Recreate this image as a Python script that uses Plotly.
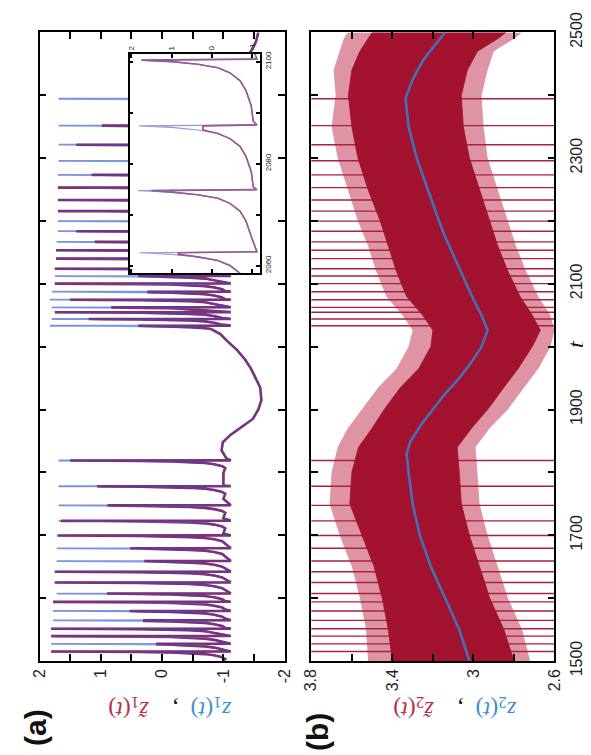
import plotly.graph_objects as go

# ---------------- data ----------------
# spike (firing) times shared by both panels
spike_t = [1514.9, 1527.2, 1539.5, 1551.2, 1564.5, 1579.5, 1593.9, 1607.2, 1624.8,
           1641.9, 1658.9, 1679.2, 1699.5, 1722.9, 1747.5, 1777.9, 1818.9,
           2033.3, 2044.0, 2054.7, 2062.5, 2074.7, 2087.4, 2100.3, 2112.3, 2124.0,
           2140.0, 2153.3, 2166.7, 2183.7, 2199.7, 2215.7, 2233.3, 2253.1, 2273.3,
           2295.7, 2321.3, 2351.7, 2394.4]
# peak of z1 (blue) at each spike
z1_peak = [1.81, 1.81, 1.81, 1.81, 1.78, 1.78, 1.78, 1.72, 1.75,
           1.75, 1.72, 1.72, 1.72, 1.69, 1.69, 1.69, 1.69,
           1.83, 1.80, 1.75, 1.80, 1.83, 1.80, 1.75, 1.75, 1.75,
           1.73, 1.73, 1.72, 1.70, 1.70, 1.70, 1.70, 1.70, 1.70,
           1.69, 1.69, 1.69, 1.69]
# peak of z~1 (red) at each spike
z1t_peak = [1.81, 0.08, 1.81, 1.81, 0.29, 0.53, 1.78, 0.90, 1.75,
            1.75, 0.29, 0.52, 1.70, 1.65, 0.87, 1.06, 1.50,
            0.39, 1.20, 1.75, 0.83, 1.50, 0.22, 1.75, 0.39, 1.75,
            1.73, 1.73, 1.10, 1.40, 0.30, 1.70, 1.70, 1.70, 1.15,
            0.30, 1.40, 0.96, 0.30]
# shape of one firing cycle: time before a spike and value
hook_tau = [40, 20, 12, 9, 6, 4, 2.5, 1.5, 0.8, 0.3]
hook_z = [-1.0, -1.0, -1.03, -0.98, -0.85, -0.7, -0.45, -0.15, 0.35, 1.0]
reset_dt = 0.2
reset_z = -1.12
start_t, start_z = 1500.0, -1.0
# quiet (non-firing) stretches of z1
quiet_t = [1822, 1835, 1848, 1860, 1872, 1885, 1900, 1915, 1935, 1950, 1965, 1980,
           1995, 2010, 2020, 2028,
           2397, 2410, 2425, 2440, 2455, 2470, 2485, 2500]
quiet_z = [-1.05, -0.97, -0.99, -1.12, -1.3, -1.48, -1.57, -1.62, -1.6, -1.53, -1.45,
           -1.35, -1.22, -1.05, -0.95, -0.8,
           -1.05, -1.0, -1.05, -1.18, -1.33, -1.45, -1.53, -1.57]

# panel (b): slow variable z2 (blue)
z2_t = [1500, 1550, 1600, 1650, 1700, 1750, 1800, 1830, 1850, 1875, 1900, 1925, 1950,
        1975, 2000, 2026, 2050, 2075, 2100, 2125, 2150, 2175, 2200, 2250, 2300, 2350,
        2395, 2425, 2455, 2480, 2500]
z2 = [3.02, 3.07, 3.14, 3.21, 3.265, 3.30, 3.32, 3.33, 3.31, 3.26, 3.20, 3.14, 3.07,
      3.01, 2.96, 2.93, 2.96, 3.00, 3.035, 3.07, 3.105, 3.14, 3.17, 3.225, 3.28, 3.32,
      3.335, 3.30, 3.25, 3.19, 3.14]
# panel (b): noisy z~2 band (dense core and light fringe), envelopes
band_t = [1500, 1550, 1600, 1650, 1700, 1750, 1800, 1840, 1870, 1900, 1935, 1965, 2000,
          2026, 2050, 2080, 2120, 2160, 2200, 2250, 2300, 2350, 2400, 2440, 2470, 2490, 2500]
core_hi = [3.40, 3.42, 3.45, 3.49, 3.55, 3.61, 3.60, 3.567, 3.50, 3.44, 3.36, 3.27, 3.21,
           3.20, 3.25, 3.33, 3.38, 3.42, 3.46, 3.52, 3.57, 3.60, 3.617, 3.60, 3.56, 3.52, 3.50]
core_lo = [2.80, 2.85, 2.92, 2.97, 3.02, 3.06, 3.07, 3.08, 3.01, 2.93, 2.85, 2.78, 2.71,
           2.67, 2.71, 2.77, 2.83, 2.88, 2.92, 2.97, 3.02, 3.05, 3.06, 3.03, 2.98, 2.88, 2.84]
fringe_hi = [3.52, 3.53, 3.56, 3.60, 3.66, 3.71, 3.70, 3.67, 3.62, 3.55, 3.47, 3.38, 3.32,
             3.30, 3.35, 3.43, 3.48, 3.52, 3.57, 3.62, 3.67, 3.70, 3.68, 3.69, 3.66, 3.64, 3.62]
fringe_lo = [2.72, 2.76, 2.83, 2.88, 2.93, 2.97, 2.98, 2.99, 2.92, 2.83, 2.75, 2.68, 2.62,
             2.60, 2.62, 2.68, 2.74, 2.79, 2.83, 2.88, 2.93, 2.95, 2.96, 2.93, 2.90, 2.80, 2.76]
spike_z2_hi, spike_z2_lo = 3.9, 2.5

# axes
t_range = [1500, 2500]
z1_range = [2, -2]
z2_range = [3.8, 2.6]
inset_z_range = [2.04, -1.19]
inset_t_range = [2058.6, 2101.5]
t_major = [1500, 1700, 1900, 2100, 2300, 2500]
t_minor = [1600, 1800, 2000, 2200, 2400]
z1_major = [2, 1, 0, -1, -2]
z1_minor = [1.5, 0.5, -0.5, -1.5]
z2_major = [3.8, 3.4, 3.0, 2.6]
z2_labels = ["3.8", "3.4", "3", "2.6"]
z2_minor = [3.6, 3.2, 2.8]
inset_z_ticks = [2, 1, 0, -1]
inset_t_major = [2060, 2080, 2100]
inset_t_minor = [2070, 2090]


# ---------------- build z1 / z~1 series ----------------
def build(peaks):
    events = [("s", t, p) for t, p in zip(spike_t, peaks)] + \
             [("q", t, z) for t, z in zip(quiet_t, quiet_z)]
    events.sort(key=lambda e: e[1])
    ts, zs = [start_t], [start_z]
    for kind, t, v in events:
        if kind == "q":
            ts.append(t); zs.append(v)
            continue
        last = ts[-1]
        for tau, hz in zip(hook_tau, hook_z):
            tt = t - tau
            if tt > last + 0.25:
                ts.append(tt); zs.append(min(hz, v))
        ts.append(t); zs.append(v)
        ts.append(t + reset_dt); zs.append(reset_z)
    return ts, zs


t1, z1 = build(z1_peak)
t1t, z1t = build(z1t_peak)

RED = "#b01e45"
BLUE = "rgba(45,80,200,0.62)"

fig = go.Figure()

# panel (a)
fig.add_trace(go.Scatter(x=z1t, y=t1t, mode="lines", line=dict(color=RED, width=2.6),
                         xaxis="x", yaxis="y", hoverinfo="skip"))
fig.add_trace(go.Scatter(x=z1, y=t1, mode="lines", line=dict(color=BLUE, width=1.8),
                         xaxis="x", yaxis="y", hoverinfo="skip"))

# panel (b)
fig.add_trace(go.Scatter(x=fringe_hi + fringe_lo[::-1], y=band_t + band_t[::-1],
                         fill="toself", mode="lines", line=dict(width=0),
                         fillcolor="rgba(195,60,90,0.55)", xaxis="x2", yaxis="y2",
                         hoverinfo="skip"))
sx, sy = [], []
for t in spike_t:
    sx += [spike_z2_hi, spike_z2_lo, None]
    sy += [t, t, None]
fig.add_trace(go.Scatter(x=sx, y=sy, mode="lines", line=dict(color="#a8213e", width=1.4),
                         xaxis="x2", yaxis="y2", hoverinfo="skip"))
fig.add_trace(go.Scatter(x=core_hi + core_lo[::-1], y=band_t + band_t[::-1],
                         fill="toself", mode="lines", line=dict(width=0.8, color="#a3122f"),
                         fillcolor="#a3122f", xaxis="x2", yaxis="y2", hoverinfo="skip"))
fig.add_trace(go.Scatter(x=z2, y=z2_t, mode="lines", line=dict(color="#4470b8", width=2.6),
                         xaxis="x2", yaxis="y2", hoverinfo="skip"))

# inset (white background, then curves)
fig.add_trace(go.Scatter(x=[inset_z_range[0], inset_z_range[1], inset_z_range[1], inset_z_range[0]],
                         y=[inset_t_range[0], inset_t_range[0], inset_t_range[1], inset_t_range[1]],
                         fill="toself", fillcolor="white", mode="lines", line=dict(width=0),
                         xaxis="x3", yaxis="y3", hoverinfo="skip"))
fig.add_trace(go.Scatter(x=z1t, y=t1t, mode="lines", line=dict(color="#b03a5a", width=1.6),
                         xaxis="x3", yaxis="y3", hoverinfo="skip"))
fig.add_trace(go.Scatter(x=z1, y=t1, mode="lines", line=dict(color="rgba(110,120,200,0.75)", width=1.1),
                         xaxis="x3", yaxis="y3", hoverinfo="skip"))

tickfont = dict(family="Liberation Sans, Arial", size=16, color="#222")
small = dict(family="Liberation Sans, Arial", size=8, color="#222")


def ax(**kw):
    d = dict(showgrid=False, zeroline=False, showline=True, linecolor="black",
             linewidth=1.6, ticks="inside", mirror="ticks", tickcolor="black",
             automargin=False, ticklen=7, tickwidth=2)
    d.update(kw)
    return d


minor_main = dict(ticks="inside", ticklen=7, tickwidth=2, tickcolor="black", showgrid=False)
minor_small = dict(ticks="inside", ticklen=4, tickwidth=1.5, tickcolor="black", showgrid=False)

fig.update_layout(
    template="none",
    width=591, height=755, autosize=False,
    margin=dict(l=0, r=0, t=0, b=0, pad=0),
    font=dict(family="Liberation Sans, Arial", color="#222"),
    paper_bgcolor="white", plot_bgcolor="white", showlegend=False,
    xaxis=ax(domain=[0.0533, 0.4682], range=z1_range, anchor="y",
             tickvals=z1_major, ticktext=[str(v) for v in z1_major], tickangle=-90,
             tickfont=tickfont, minor=dict(tickvals=z1_minor, **minor_main)),
    yaxis=ax(domain=[0.1352, 0.9677], range=t_range, anchor="x",
             tickvals=t_major, showticklabels=False,
             minor=dict(tickvals=t_minor, **minor_main)),
    xaxis2=ax(domain=[0.5132, 0.9247], range=z2_range, anchor="y2",
              tickvals=z2_major, ticktext=z2_labels, tickangle=-90, tickfont=tickfont,
              minor=dict(tickvals=z2_minor, **minor_main)),
    yaxis2=ax(domain=[0.1352, 0.9677], range=t_range, anchor="x2", side="right",
              tickvals=t_major, ticktext=[str(v) for v in t_major], tickangle=-90,
              tickfont=tickfont, ticklabelstandoff=6,
              minor=dict(tickvals=t_minor, **minor_main)),
    xaxis3=ax(domain=[0.2059, 0.4259], range=inset_z_range, anchor="y3", side="top",
              tickvals=inset_z_ticks, ticktext=[str(v) for v in inset_z_ticks],
              tickangle=-90, tickfont=small, ticklen=4, tickwidth=1.5, linewidth=1.5),
    yaxis3=ax(domain=[0.6494, 0.9391], range=inset_t_range, anchor="x3", side="right",
              tickvals=inset_t_major, ticktext=[str(v) for v in inset_t_major],
              tickangle=-90, tickfont=small, ticklen=4, tickwidth=1.5, linewidth=1.5,
              minor=dict(tickvals=inset_t_minor, **minor_small)),
)

serif = "Liberation Serif, Times New Roman, serif"
bl = "#3f8fd2"
rd = "#b83048"
sp1 = "&nbsp;" * 2
sp2 = "&nbsp;" * 4
title1 = (f'<span style="color:{bl}"><i>z</i><sub>1</sub>(<i>t</i>)</span>{sp1},{sp2}'
          f'<span style="color:{rd}"><i>z\u0303</i><sub>1</sub>(<i>t</i>)</span>')
title2 = (f'<span style="color:{bl}"><i>z</i><sub>2</sub>(<i>t</i>)</span>{sp1},{sp2}'
          f'<span style="color:{rd}"><i>z\u0303</i><sub>2</sub>(<i>t</i>)</span>')

bold = dict(family="Liberation Sans, Arial", size=30, color="#111")
ann = [
    dict(text="<b>(a)</b>", x=27 / 591, y=(755 - 720) / 755, textangle=-90, font=bold),
    dict(text="<b>(b)</b>", x=309 / 591, y=(755 - 724) / 755, textangle=-90, font=bold),
    dict(text=title1, x=162 / 591, y=(755 - 700) / 755, textangle=180,
         font=dict(family=serif, size=24, color="#111")),
    dict(text=title2, x=447 / 591, y=(755 - 700) / 755, textangle=180,
         font=dict(family=serif, size=24, color="#111")),
    dict(text="<i>t</i>", x=568 / 591, y=(755 - 336) / 755, textangle=-90,
         font=dict(family=serif, size=24, color="#111")),
]
for a in ann:
    a.update(xref="paper", yref="paper", showarrow=False, xanchor="center", yanchor="middle")
fig.update_layout(annotations=ann)

fig.write_html("out.html")
